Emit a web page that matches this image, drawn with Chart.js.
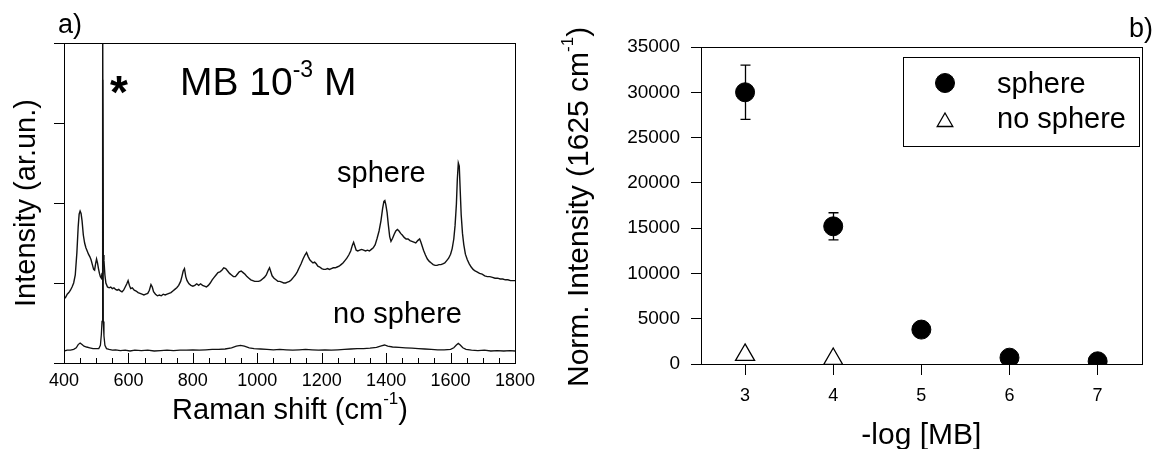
<!DOCTYPE html>
<html>
<head>
<meta charset="utf-8">
<title>MB Raman / sphere</title>
<script src="https://cdn.jsdelivr.net/npm/chart.js@4.4.1/dist/chart.umd.min.js"></script>
<style>
  html, body { margin: 0; padding: 0; background: #fff; }
  #wrap { position: relative; width: 1154px; height: 449px; overflow: hidden; }
  #wrap canvas { position: absolute; left: 0; top: 0; }
</style>
</head>
<body>
<div id="wrap">
  <canvas id="spectraChart" width="1154" height="449"></canvas>
  <canvas id="intensityChart" width="1154" height="449"></canvas>
</div>
<script>
// ---- panel a) Raman spectra (arbitrary units, 4 tick steps) ----
const sphereShift = [
  400, 405, 410, 415, 420, 425, 430, 435, 440, 444, 447, 450, 453, 456, 460, 464, 468, 472, 476, 480,
  484, 488, 492, 495, 498, 501, 504, 507, 510, 513, 516, 518, 520, 522, 524, 527, 530, 535, 540, 545,
  550, 555, 560, 565, 570, 575, 580, 585, 590, 595, 599, 603, 607, 612, 618, 624, 630, 636, 642, 648,
  654, 660, 665, 670, 674, 678, 684, 690, 696, 702, 708, 714, 720, 726, 732, 738, 744, 750, 756, 762,
  766, 770, 774, 778, 782, 788, 794, 800, 806, 812, 818, 824, 830, 836, 842, 848, 854, 860, 866, 872,
  878, 884, 890, 896, 902, 908, 914, 920, 926, 932, 938, 944, 950, 956, 962, 968, 974, 980, 986, 992,
  998, 1004, 1010, 1016, 1022, 1028, 1034, 1038, 1042, 1046, 1052, 1058, 1064, 1070, 1076, 1082, 1088, 1094, 1100, 1106,
  1112, 1118, 1124, 1130, 1136, 1142, 1148, 1153, 1158, 1163, 1168, 1173, 1178, 1183, 1188, 1194, 1200, 1206, 1212, 1218,
  1224, 1230, 1236, 1242, 1248, 1254, 1260, 1266, 1272, 1278, 1284, 1290, 1295, 1299, 1303, 1307, 1312, 1318, 1324, 1330,
  1336, 1342, 1348, 1354, 1360, 1366, 1372, 1378, 1384, 1389, 1393, 1396, 1399, 1403, 1407, 1411, 1415, 1420, 1425, 1430,
  1435, 1440, 1445, 1450, 1456, 1462, 1468, 1474, 1480, 1486, 1492, 1498, 1504, 1508, 1512, 1516, 1522, 1528, 1534, 1540,
  1546, 1552, 1558, 1564, 1570, 1576, 1582, 1588, 1594, 1600, 1605, 1610, 1614, 1618, 1621, 1624, 1627, 1630, 1633, 1637,
  1641, 1646, 1652, 1658, 1664, 1670, 1676, 1682, 1690, 1698, 1706, 1714, 1722, 1730, 1738, 1746, 1754, 1762, 1770, 1778,
  1786, 1794, 1800
];
const sphereSignal = [
  0.80, 0.82, 0.86, 0.88, 0.91, 0.95, 1.00, 1.10, 1.38, 1.70, 1.86, 1.90, 1.87, 1.78, 1.60, 1.50, 1.44, 1.40, 1.36, 1.33,
  1.29, 1.23, 1.17, 1.16, 1.24, 1.30, 1.25, 1.18, 1.12, 1.08, 1.06, 1.12, 3.54, 1.35, 1.28, 1.10, 1.00, 0.95, 0.94, 0.95,
  0.93, 0.94, 0.92, 0.91, 0.92, 0.90, 0.89, 0.91, 0.95, 0.99, 1.03, 0.97, 0.93, 0.94, 0.91, 0.90, 0.88, 0.87, 0.86, 0.85,
  0.86, 0.87, 0.91, 0.98, 0.95, 0.89, 0.86, 0.84, 0.85, 0.84, 0.86, 0.85, 0.86, 0.87, 0.88, 0.90, 0.92, 0.94, 0.97, 1.02,
  1.08, 1.15, 1.18, 1.08, 1.03, 0.99, 0.97, 0.96, 0.97, 0.99, 0.97, 0.99, 0.97, 0.96, 0.95, 0.97, 1.00, 1.04, 1.07, 1.10,
  1.13, 1.14, 1.16, 1.19, 1.18, 1.15, 1.12, 1.10, 1.08, 1.08, 1.11, 1.14, 1.15, 1.13, 1.11, 1.08, 1.06, 1.04, 1.03, 1.02,
  1.02, 1.02, 1.03, 1.05, 1.07, 1.10, 1.16, 1.19, 1.14, 1.09, 1.06, 1.04, 1.02, 1.02, 1.01, 1.00, 1.00, 1.01, 1.02, 1.04,
  1.07, 1.10, 1.14, 1.19, 1.24, 1.30, 1.35, 1.38, 1.33, 1.29, 1.27, 1.25, 1.26, 1.24, 1.21, 1.20, 1.18, 1.17, 1.17, 1.18,
  1.17, 1.18, 1.19, 1.19, 1.20, 1.21, 1.23, 1.25, 1.28, 1.31, 1.35, 1.40, 1.47, 1.51, 1.46, 1.41, 1.40, 1.41, 1.42, 1.41,
  1.40, 1.41, 1.40, 1.42, 1.44, 1.48, 1.56, 1.65, 1.78, 1.93, 2.02, 2.03, 1.98, 1.88, 1.72, 1.58, 1.52, 1.56, 1.61, 1.65,
  1.67, 1.65, 1.62, 1.60, 1.57, 1.55, 1.55, 1.53, 1.52, 1.51, 1.50, 1.53, 1.55, 1.51, 1.46, 1.41, 1.35, 1.30, 1.27, 1.25,
  1.23, 1.22, 1.22, 1.23, 1.23, 1.24, 1.25, 1.28, 1.31, 1.36, 1.43, 1.55, 1.72, 1.98, 2.30, 2.50, 2.46, 2.15, 1.85, 1.62,
  1.48, 1.36, 1.29, 1.24, 1.20, 1.17, 1.15, 1.14, 1.12, 1.11, 1.09, 1.08, 1.08, 1.07, 1.06, 1.06, 1.05, 1.05, 1.04, 1.04,
  1.03, 1.03, 1.03
];
const noSphereShift = [
  400, 410, 420, 430, 438, 444, 450, 456, 462, 470, 480, 490, 500, 508, 513, 516, 518, 520, 522, 524,
  527, 532, 540, 550, 560, 575, 590, 605, 620, 640, 660, 680, 700, 720, 740, 760, 780, 800, 820, 840,
  860, 880, 900, 920, 935, 948, 960, 975, 990, 1010, 1030, 1050, 1070, 1090, 1110, 1130, 1150, 1170, 1190, 1210,
  1230, 1250, 1270, 1290, 1310, 1330, 1350, 1370, 1385, 1395, 1405, 1420, 1440, 1460, 1480, 1500, 1520, 1540, 1560, 1580,
  1600, 1610, 1618, 1624, 1630, 1638, 1648, 1665, 1685, 1705, 1725, 1745, 1765, 1785, 1800
];
const noSphereSignal = [
  0.15, 0.16, 0.16, 0.17, 0.19, 0.23, 0.25, 0.23, 0.21, 0.20, 0.19, 0.18, 0.18, 0.18, 0.22, 0.36, 0.52, 5.00, 0.52, 0.34,
  0.22, 0.18, 0.17, 0.16, 0.165, 0.155, 0.16, 0.15, 0.16, 0.155, 0.16, 0.15, 0.155, 0.16, 0.155, 0.16, 0.16, 0.165, 0.16, 0.165,
  0.17, 0.17, 0.175, 0.19, 0.21, 0.22, 0.21, 0.19, 0.18, 0.175, 0.17, 0.165, 0.17, 0.165, 0.16, 0.165, 0.17, 0.165, 0.16, 0.165,
  0.16, 0.165, 0.17, 0.175, 0.18, 0.18, 0.185, 0.195, 0.215, 0.225, 0.21, 0.20, 0.195, 0.19, 0.185, 0.18, 0.175, 0.17, 0.165, 0.165,
  0.17, 0.19, 0.225, 0.245, 0.225, 0.19, 0.17, 0.16, 0.155, 0.16, 0.15, 0.155, 0.15, 0.155, 0.15
];
const ramanTicks = [400, 600, 800, 1000, 1200, 1400, 1600, 1800];
const ramanMinorTicks = [450, 500, 550, 650, 700, 750, 850, 900, 950, 1050, 1100, 1150, 1250, 1300, 1350, 1450, 1500, 1550, 1650, 1700, 1750];
const spectraYTicks = [0, 1, 2, 3, 4];

// ---- panel b) normalized intensity at 1625 cm-1 ----
const mbLog = [3, 4, 5, 6, 7];
const sphereIntensity = [30000, 15200, 3800, 700, 300];
const sphereError = [3000, 1500, 0, 0, 0];
const noSphereLog = [3, 4];
const noSphereIntensity = [1000, 550];
const intensityTicks = [0, 5000, 10000, 15000, 20000, 25000, 30000, 35000];

const FONT = "'Liberation Sans', Arial, sans-serif";
Chart.defaults.font.family = FONT;
Chart.defaults.color = "#000";

// text with superscripts: parts = [text, size, rise]
function drawRich(ctx, parts, x, y, opts = {}) {
  ctx.save();
  ctx.translate(x, y);
  if (opts.rotate) ctx.rotate(-Math.PI / 2);
  ctx.fillStyle = "#000";
  ctx.textBaseline = "alphabetic";
  ctx.textAlign = "left";
  let total = 0;
  parts.forEach(([t, size]) => {
    ctx.font = `${opts.bold ? "bold " : ""}${size}px ${FONT}`;
    total += ctx.measureText(t).width;
  });
  let cx = opts.center ? -total / 2 : 0;
  parts.forEach(([t, size, rise]) => {
    ctx.font = `${opts.bold ? "bold " : ""}${size}px ${FONT}`;
    ctx.fillText(t, cx, -(rise || 0));
    cx += ctx.measureText(t).width;
  });
  ctx.restore();
}

function strokeFrame(ctx, ca) {
  ctx.save();
  ctx.strokeStyle = "#000";
  ctx.lineWidth = 1;
  ctx.strokeRect(Math.round(ca.left) + 0.5, Math.round(ca.top) + 0.5,
    Math.round(ca.right - ca.left), Math.round(ca.bottom - ca.top));
  ctx.restore();
}

const panelA = {
  id: "panelA",
  afterDraw(chart) {
    const ctx = chart.ctx;
    const ca = chart.chartArea;
    const xs = chart.scales.x;
    strokeFrame(ctx, ca);
    // inward ticks on the Raman shift axis
    ctx.save();
    ctx.strokeStyle = "#000";
    ctx.lineWidth = 1;
    ctx.beginPath();
    ramanTicks.forEach((v) => {
      const px = Math.round(xs.getPixelForValue(v)) + 0.5;
      ctx.moveTo(px, ca.bottom);
      ctx.lineTo(px, ca.bottom - 10);
    });
    ramanMinorTicks.forEach((v) => {
      const px = Math.round(xs.getPixelForValue(v)) + 0.5;
      ctx.moveTo(px, ca.bottom);
      ctx.lineTo(px, ca.bottom - 5);
    });
    ctx.stroke();
    ctx.restore();

    drawRich(ctx, [["a)", 27]], 58, 33);
    drawRich(ctx, [["*", 46]], 110, 108, { bold: true });
    drawRich(ctx, [["MB 10", 39], ["-3", 23, 18], [" M", 39]], 180, 95);
    drawRich(ctx, [["sphere", 29]], 337, 182);
    drawRich(ctx, [["no sphere", 29]], 333, 323);
    drawRich(ctx, [["Raman shift (cm", 29], ["-1", 17, 15], [")", 29]], 290, 419, { center: true });
  },
};

const panelB = {
  id: "panelB",
  beforeDatasetsDraw(chart) {
    const ctx = chart.ctx;
    const xs = chart.scales.x;
    const ys = chart.scales.y;
    ctx.save();
    ctx.strokeStyle = "#000";
    ctx.lineWidth = 1.3;
    mbLog.forEach((v, i) => {
      const e = sphereError[i];
      if (!e) return;
      const px = Math.round(xs.getPixelForValue(v)) + 0.5;
      const top = ys.getPixelForValue(sphereIntensity[i] + e);
      const bot = ys.getPixelForValue(sphereIntensity[i] - e);
      ctx.beginPath();
      ctx.moveTo(px, top);
      ctx.lineTo(px, bot);
      ctx.moveTo(px - 5, top);
      ctx.lineTo(px + 5, top);
      ctx.moveTo(px - 5, bot);
      ctx.lineTo(px + 5, bot);
      ctx.stroke();
    });
    ctx.restore();
  },
  afterDraw(chart) {
    const ctx = chart.ctx;
    strokeFrame(ctx, chart.chartArea);

    // legend box
    ctx.save();
    ctx.strokeStyle = "#000";
    ctx.lineWidth = 1;
    ctx.strokeRect(903.5, 57.5, 236, 89);
    const rows = [83, 122];
    const bases = [93, 128];
    chart.data.datasets.forEach((ds, i) => {
      ctx.fillStyle = ds.backgroundColor;
      ctx.strokeStyle = ds.borderColor;
      ctx.lineWidth = ds.borderWidth;
      Chart.helpers.drawPoint(ctx, {
        pointStyle: ds.pointStyle,
        radius: i === 0 ? 9.5 : 9,
        rotation: 0,
        borderWidth: ds.borderWidth,
      }, 945, rows[i]);
      drawRich(ctx, [[ds.label, 29]], 997, bases[i]);
    });
    ctx.restore();

    drawRich(ctx, [["b)", 27]], 1129, 37);
    drawRich(ctx, [["Norm. Intensity (1625 cm", 30], ["-1", 17, 15], [")", 30]], 588, 387, { rotate: true });
  },
};

new Chart(document.getElementById("spectraChart"), {
  type: "line",
  data: {
    datasets: [
      {
        label: "sphere",
        data: sphereShift.map((x, i) => ({ x, y: sphereSignal[i] })),
        borderColor: "#111",
        borderWidth: 1.4,
        pointRadius: 0,
        tension: 0,
      },
      {
        label: "no sphere",
        data: noSphereShift.map((x, i) => ({ x, y: noSphereSignal[i] })),
        borderColor: "#111",
        borderWidth: 1.3,
        pointRadius: 0,
        tension: 0,
      },
    ],
  },
  options: {
    responsive: false,
    animation: false,
    layout: { padding: { left: 0, top: 43, right: 639, bottom: 0 } },
    plugins: { legend: { display: false }, tooltip: { enabled: false } },
    scales: {
      x: {
        type: "linear",
        min: 400,
        max: 1800,
        afterBuildTicks: (s) => { s.ticks = ramanTicks.map((v) => ({ value: v })); },
        afterFit: (s) => { s.height = 86; },
        ticks: { font: { size: 18 }, padding: 7, color: "#000", callback: (v) => String(v) },
        grid: { display: false, drawTicks: false },
        border: { display: true, color: "#000" },
      },
      y: {
        min: 0,
        max: 4,
        afterBuildTicks: (s) => { s.ticks = spectraYTicks.map((v) => ({ value: v })); },
        afterFit: (s) => { s.width = 64; },
        ticks: { display: false },
        grid: { drawOnChartArea: false, tickLength: 10, color: "#000" },
        border: { display: true, color: "#000" },
        title: {
          display: true,
          text: "Intensity (ar.un.)",
          font: { size: 29 },
          color: "#000",
          padding: { top: 10, bottom: 0 },
        },
      },
    },
  },
  plugins: [panelA],
});

new Chart(document.getElementById("intensityChart"), {
  type: "scatter",
  data: {
    datasets: [
      {
        label: "sphere",
        data: mbLog.map((x, i) => ({ x, y: sphereIntensity[i] })),
        pointStyle: "circle",
        pointRadius: 9.5,
        backgroundColor: "#000",
        borderColor: "#000",
        borderWidth: 1,
      },
      {
        label: "no sphere",
        data: noSphereLog.map((x, i) => ({ x, y: noSphereIntensity[i] })),
        pointStyle: "triangle",
        pointRadius: 11,
        backgroundColor: "#fff",
        borderColor: "#000",
        borderWidth: 1.3,
      },
    ],
  },
  options: {
    responsive: false,
    animation: false,
    layout: { padding: { left: 560, top: 47, right: 3, bottom: 0 } },
    plugins: { legend: { display: false }, tooltip: { enabled: false } },
    scales: {
      x: {
        type: "linear",
        min: 2.5,
        max: 7.5,
        afterBuildTicks: (s) => { s.ticks = mbLog.map((v) => ({ value: v })); },
        afterFit: (s) => { s.height = 85; },
        ticks: { font: { size: 18 }, padding: 10, color: "#000", callback: (v) => String(v) },
        grid: { drawOnChartArea: false, tickLength: 11, color: "#000" },
        border: { display: true, color: "#000" },
        title: {
          display: true,
          text: "-log [MB]",
          font: { size: 30, lineHeight: 1 },
          color: "#000",
          padding: { top: 0, bottom: -2 },
        },
      },
      y: {
        min: 0,
        max: 35000,
        afterBuildTicks: (s) => { s.ticks = intensityTicks.map((v) => ({ value: v })); },
        afterFit: (s) => { s.width = 141; },
        ticks: { font: { size: 19 }, padding: 11, color: "#000", callback: (v) => String(v) },
        grid: { drawOnChartArea: false, tickLength: 10, color: "#000" },
        border: { display: true, color: "#000" },
      },
    },
  },
  plugins: [panelB],
});
</script>
</body>
</html>
